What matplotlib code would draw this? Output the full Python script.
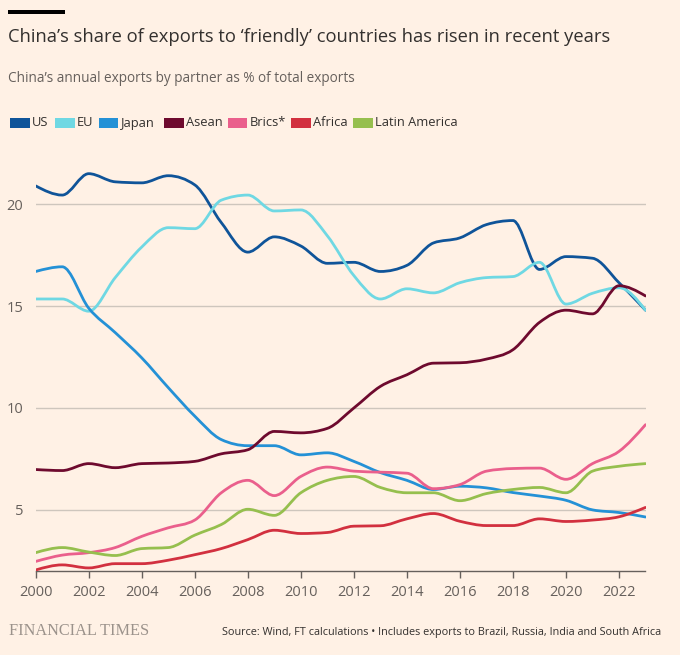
import numpy as np
import matplotlib
matplotlib.use("Agg")
import matplotlib.pyplot as plt
from matplotlib.path import Path
from matplotlib.patches import PathPatch, Rectangle

# China's annual exports by partner, % of total exports
years = list(range(2000, 2024))
us = [20.9, 20.45, 21.5, 21.1, 21.05, 21.4, 20.95, 19.1, 17.65, 18.4, 17.95, 17.1,
      17.15, 16.7, 17.0, 18.1, 18.35, 19.0, 19.2, 16.8, 17.43, 17.35, 16.15, 14.8]
eu = [15.35, 15.35, 14.75, 16.4, 17.9, 18.85, 18.8, 20.2, 20.45, 19.67, 19.72, 18.45,
      16.5, 15.35, 15.85, 15.65, 16.15, 16.4, 16.45, 17.15, 15.1, 15.63, 15.9, 14.8]
japan = [16.7, 16.93, 14.9, 13.7, 12.46, 11.0, 9.6, 8.45, 8.15, 8.15, 7.7, 7.8,
         7.38, 6.83, 6.45, 6.0, 6.16, 6.08, 5.85, 5.68, 5.47, 5.0, 4.87, 4.65]
asean = [6.98, 6.93, 7.27, 7.07, 7.27, 7.3, 7.38, 7.75, 7.95, 8.85, 8.78, 9.0,
         10.0, 11.06, 11.63, 12.2, 12.22, 12.4, 12.86, 14.2, 14.8, 14.62, 16.0, 15.5]
brics = [2.47, 2.78, 2.9, 3.15, 3.7, 4.12, 4.5, 5.84, 6.45, 5.7, 6.64, 7.1,
         6.9, 6.85, 6.8, 6.04, 6.24, 6.9, 7.03, 7.05, 6.5, 7.27, 7.87, 9.18]
africa = [2.05, 2.3, 2.15, 2.36, 2.36, 2.53, 2.8, 3.1, 3.54, 4.0, 3.84, 3.89,
          4.2, 4.22, 4.56, 4.82, 4.44, 4.23, 4.23, 4.56, 4.43, 4.5, 4.66, 5.12]
latam = [2.9, 3.15, 2.93, 2.76, 3.1, 3.15, 3.76, 4.28, 5.03, 4.73, 5.84, 6.45,
         6.64, 6.1, 5.84, 5.84, 5.45, 5.8, 6.0, 6.1, 5.84, 6.9, 7.14, 7.27]

series_names = ["US", "EU", "Japan", "Asean", "Brics*", "Africa", "Latin America"]
series_values = [us, eu, japan, asean, brics, africa, latam]
series_colors = ["#0f5499", "#6fd8e3", "#2491d6", "#6e0a2e", "#ea5f8c", "#d2303f", "#96bf4e"]

y_ticks = [5, 10, 15, 20]
x_ticks = list(range(2000, 2023, 2))

BG = "#fff1e5"
TEXT = "#33302e"
GREY = "#66605c"


def smooth_path(x, y):
    # monotone cubic curve through the points (same as d3 curveMonotoneX)
    x = np.asarray(x, float)
    y = np.asarray(y, float)
    h = np.diff(x)
    d = np.diff(y) / h
    m = np.zeros_like(y)
    for i in range(1, len(y) - 1):
        s0, s1 = d[i - 1], d[i]
        p = (s0 * h[i] + s1 * h[i - 1]) / (h[i - 1] + h[i])
        m[i] = (np.sign(s0) + np.sign(s1)) * min(abs(s0), abs(s1), 0.5 * abs(p))
    m[0] = (3 * d[0] - m[1]) / 2
    m[-1] = (3 * d[-1] - m[-2]) / 2
    verts = [(x[0], y[0])]
    codes = [Path.MOVETO]
    for i in range(len(x) - 1):
        dx = h[i] / 3
        verts += [(x[i] + dx, y[i] + dx * m[i]),
                  (x[i + 1] - dx, y[i + 1] - dx * m[i + 1]),
                  (x[i + 1], y[i + 1])]
        codes += [Path.CURVE4] * 3
    return Path(verts, codes)


fig = plt.figure(figsize=(6.8, 6.55), dpi=100, facecolor=BG)
plt.rcParams['font.family'] = ['Open Sans', 'DejaVu Sans']

# plot area
ax = fig.add_axes([35.7 / 680, 1 - 571 / 655, 609.8 / 680, (571 - 153.3) / 655])
ax.set_facecolor(BG)
ax.set_xlim(2000, 2023)
ax.set_ylim(2.0, 22.5)

for name, vals, col in zip(series_names, series_values, series_colors):
    ax.add_patch(PathPatch(smooth_path(years, vals), facecolor="none", edgecolor=col,
                           linewidth=2.0, capstyle="round", joinstyle="round", zorder=3))

ax.set_yticks(y_ticks)
ax.set_yticklabels([str(t) for t in y_ticks])
ax.grid(True, axis="y", color="#cec6bd", linewidth=1.0, zorder=1)
ax.tick_params(axis="y", length=0, pad=9, labelsize=10.5, labelcolor=GREY)
ax.set_xticks(x_ticks)
ax.set_xticklabels([str(t) for t in x_ticks])
ax.tick_params(axis="x", length=5, width=1, color=GREY, pad=5, labelsize=10.5, labelcolor=GREY)
for s in ["top", "right", "left"]:
    ax.spines[s].set_visible(False)
ax.spines["bottom"].set_color(GREY)
ax.spines["bottom"].set_linewidth(1.0)

# header
fig.patches.append(Rectangle((8 / 680, 1 - 14 / 655), 57 / 680, 4 / 655,
                             transform=fig.transFigure, facecolor="#000000", edgecolor="none"))
fig.text(8 / 680, 1 - 37 / 655, "China\u2019s share of exports to \u2018friendly\u2019 countries has risen in recent years",
         fontsize=13.2, color=TEXT, va="center", ha="left")
fig.text(8 / 680, 1 - 78 / 655, "China\u2019s annual exports by partner as % of total exports",
         fontsize=9.8, color=GREY, va="center", ha="left")

# legend
legend_x = [10, 55, 98.7, 164, 228, 291, 353]
for lx, name, col in zip(legend_x, series_names, series_colors):
    fig.patches.append(Rectangle((lx / 680, 1 - 127.5 / 655), 19.5 / 680, 9.5 / 655,
                                 transform=fig.transFigure, facecolor=col, edgecolor="none"))
    fig.text((lx + 22) / 680, 1 - 123 / 655, name, fontsize=9.3, color=TEXT, va="center", ha="left")

# footer
fig.text(9 / 680, 1 - 631 / 655, "FINANCIAL TIMES", family="Liberation Serif", fontsize=11.7,
         color="#9b928b", va="center", ha="left")
fig.text(661 / 680, 1 - 632 / 655,
         "Source: Wind, FT calculations \u2022 Includes exports to Brazil, Russia, India and South Africa",
         fontsize=7.8, color=TEXT, va="center", ha="right")

fig.savefig("out.png", dpi=100, facecolor=BG)
